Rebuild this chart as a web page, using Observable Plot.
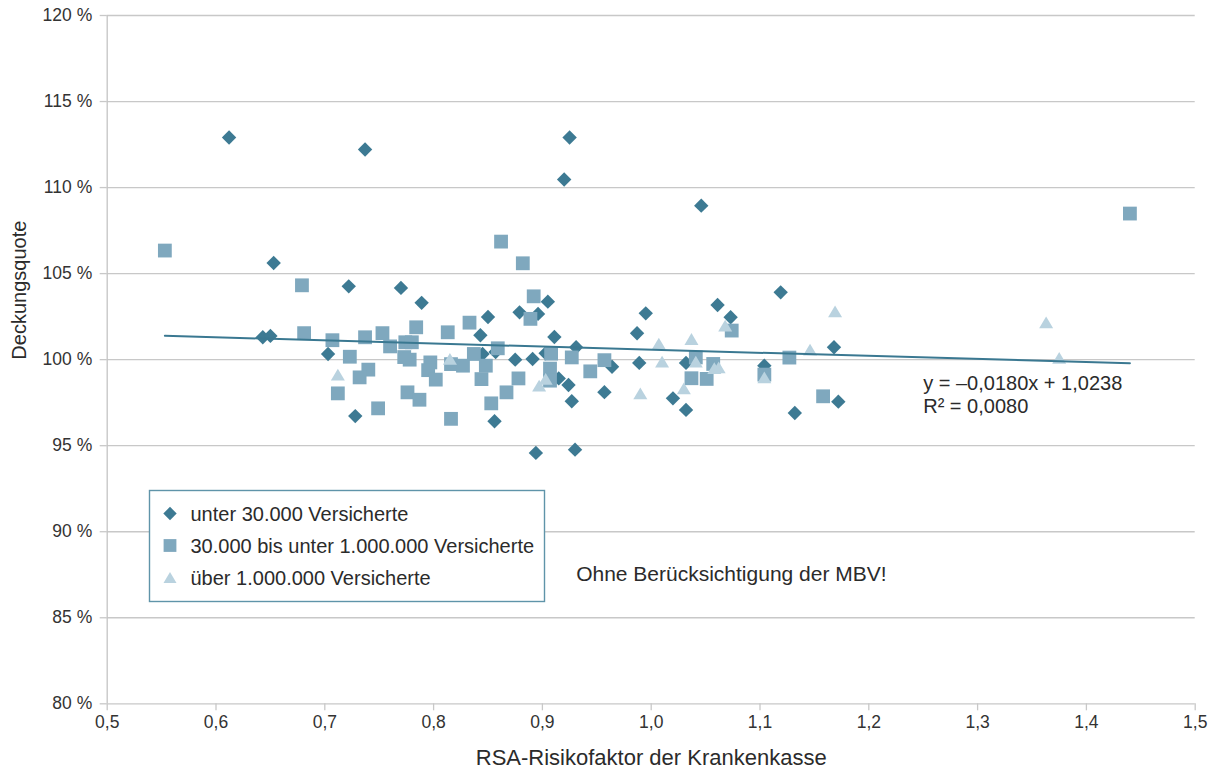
<!DOCTYPE html>
<html><head><meta charset="utf-8">
<script src="https://cdn.jsdelivr.net/npm/d3@7"></script>
<script src="https://cdn.jsdelivr.net/npm/@observablehq/plot@0.6"></script>
<style>
html,body{margin:0;padding:0;background:#fff;}
#chart{position:relative;width:1217px;height:775px;}
</style></head><body><div id="chart"></div>
<script>
const categories = ["unter 30.000 Versicherte", "30.000 bis unter 1.000.000 Versicherte", "über 1.000.000 Versicherte"];
const colors = ["#3d7a93", "#7fa8be", "#b9d2df"];

const xTicks = [0.5, 0.6, 0.7, 0.8, 0.9, 1.0, 1.1, 1.2, 1.3, 1.4, 1.5];
const yTicks = [80, 85, 90, 95, 100, 105, 110, 115, 120];

// unter 30.000 Versicherte (diamonds)
const smallX = [0.612,0.737,0.925,0.920,1.046,0.653,0.722,0.770,0.789,0.643,0.650,0.703,0.728,0.850,0.843,0.845,0.857,0.856,0.879,0.896,0.905,0.911,0.875,0.891,0.903,0.931,0.915,0.924,0.927,0.894,0.930,0.964,0.957,0.995,0.987,0.989,1.032,1.020,1.032,1.061,1.073,1.119,1.168,1.104,1.172,1.132];
const smallY = [112.91,112.21,112.91,110.47,108.95,105.62,104.26,104.17,103.30,101.30,101.38,100.33,96.72,102.48,101.42,100.33,100.44,96.42,102.75,102.66,103.37,101.32,100.00,100.04,100.37,100.72,98.91,98.53,97.58,94.58,94.77,99.59,98.11,102.69,101.53,99.81,99.81,97.75,97.08,103.18,102.46,103.91,100.72,99.65,97.56,96.90];

// 30.000 bis unter 1.000.000 Versicherte (squares)
const midX = [0.553,0.679,0.681,0.707,0.737,0.753,0.760,0.774,0.780,0.784,0.813,0.833,0.723,0.773,0.778,0.797,0.795,0.802,0.816,0.827,0.837,0.848,0.844,0.740,0.732,0.712,0.749,0.776,0.787,0.816,0.853,0.862,0.882,0.892,0.889,0.859,0.908,0.927,0.907,0.907,0.878,0.867,0.944,0.957,1.041,1.057,1.037,1.051,1.074,1.104,1.127,1.158,1.440];
const midY = [106.34,104.32,101.54,101.13,101.30,101.54,100.77,101.01,101.01,101.88,101.59,102.15,100.17,100.15,100.00,99.84,99.39,98.84,99.74,99.65,100.33,99.65,98.87,99.42,98.97,98.04,97.17,98.10,97.67,96.56,97.46,106.86,105.60,103.68,102.37,100.66,100.35,100.13,99.48,98.78,98.91,98.10,99.32,99.97,100.13,99.75,98.92,98.88,101.69,99.13,100.12,97.87,108.49];

// über 1.000.000 Versicherte (triangles)
const largeX = [0.712,0.815,0.903,0.897,1.007,1.010,0.990,1.037,1.041,1.030,1.058,1.062,1.068,1.104,1.146,1.169,1.363,1.375];
const largeY = [99.13,100.04,98.88,98.49,100.93,99.88,98.04,101.20,99.88,98.33,99.51,99.55,101.98,98.97,100.58,102.81,102.17,100.10];

// linear trend (as printed): y = slope*x + intercept
const trendCoef = [-0.0180, 1.0238];
const trendLabels = ["y = \u20130,0180x + 1,0238", "R\u00B2 = 0,0080"];
const noteText = "Ohne Berücksichtigung der MBV!";
const xTitle = "RSA-Risikofaktor der Krankenkasse";
const yTitle = "Deckungsquote";

const rows = (xs, ys) => xs.map((x, i) => ({x, y: ys[i]}));
const allX = [...smallX, ...midX, ...largeX];
const trend = d3.extent(allX).map(x => ({x, y: 100 * (trendCoef[0] * x + trendCoef[1])}));

const diamond = {draw(ctx, size) {const r = Math.sqrt(size / Math.PI); ctx.moveTo(0, -r); ctx.lineTo(r, 0); ctx.lineTo(0, r); ctx.lineTo(-r, 0); ctx.closePath();}};
const square = {draw(ctx, size) {const r = Math.sqrt(size / Math.PI); ctx.moveTo(-r, -r); ctx.lineTo(r, -r); ctx.lineTo(r, r); ctx.lineTo(-r, r); ctx.closePath();}};
const triangle = {draw(ctx, size) {const r = Math.sqrt(size / Math.PI); const h = 0.84 * r; ctx.moveTo(0, -h); ctx.lineTo(r, h); ctx.lineTo(-r, h); ctx.closePath();}};
const symbols = [diamond, square, triangle];
const sizes = [7.2, 6.9, 7];

const fmtX = d => d.toFixed(1).replace(".", ",");
const fmtY = d => d + " %";
const font = "'Liberation Sans', Arial, sans-serif";
const textColor = "#2b2b2b";

const annotations = [
  {x: 1.25, y: 98.6, text: trendLabels[0]},
  {x: 1.25, y: 97.25, text: trendLabels[1]}
];
const notes = [{x: 0.931, y: 87.55, text: noteText}];

const plot = Plot.plot({
  width: 1217, height: 775,
  marginLeft: 106.7, marginRight: 22.3, marginTop: 15, marginBottom: 71.7,
  style: {fontFamily: font, fontSize: "17px", color: "#333", background: "#fff"},
  x: {domain: [xTicks[0], xTicks[xTicks.length - 1]]},
  y: {domain: [yTicks[0], yTicks[yTicks.length - 1]]},
  marks: [
    Plot.gridY(yTicks, {stroke: "#c8c8c8", strokeOpacity: 1, strokeWidth: 1.3}),
    Plot.axisY(yTicks, {tickSize: 7, tickPadding: 8, tickFormat: fmtY, stroke: "#c8c8c8", strokeWidth: 1.3, fill: "#333", label: null, fontSize: 17.5}),
    Plot.ruleX([xTicks[0]], {stroke: "#c4c4c4", strokeWidth: 1.3}),
    Plot.axisX(xTicks, {tickSize: 7, tickPadding: 5, tickFormat: fmtX, stroke: "#c8c8c8", strokeWidth: 1.3, fill: "#333", label: null, fontSize: 17.5}),
    Plot.text([yTitle], {frameAnchor: "left", dx: -88, rotate: -90, fontSize: 20, fill: textColor}),
    Plot.text([xTitle], {frameAnchor: "bottom", dy: 61, fontSize: 22, fill: textColor}),
    ...[rows(smallX, smallY), rows(midX, midY), rows(largeX, largeY)].map((d, i) =>
      Plot.dot(d, {x: "x", y: "y", symbol: symbols[i], r: sizes[i], fill: colors[i], stroke: "none"})),
    Plot.line(trend, {x: "x", y: "y", stroke: "#3a7891", strokeWidth: 2}),
    Plot.text(annotations, {x: "x", y: "y", text: "text", textAnchor: "start", fontSize: 20, fill: textColor}),
    Plot.text(notes, {x: "x", y: "y", text: "text", textAnchor: "start", fontSize: 21, fill: textColor})
  ]
});
document.getElementById("chart").appendChild(plot);

// legend box inside the plot area
const svg = d3.select(plot);
const lg = svg.append("g").attr("font-family", font).attr("text-anchor", "start");
lg.append("rect").attr("x", 149.5).attr("y", 490.5).attr("width", 395).attr("height", 111)
  .attr("fill", "#fff").attr("stroke", "#5f94a9").attr("stroke-width", 1.4);
categories.forEach((c, i) => {
  const cy = 513.5 + i * 32;
  lg.append("path").attr("transform", `translate(170,${cy})`)
    .attr("d", d3.symbol(symbols[i], Math.PI * (sizes[i] - 0.5) ** 2)()).attr("fill", colors[i]);
  lg.append("text").attr("x", 190.5).attr("y", cy).attr("dy", "0.35em")
    .attr("font-size", 20).attr("fill", textColor).text(c);
});
</script></body></html>
